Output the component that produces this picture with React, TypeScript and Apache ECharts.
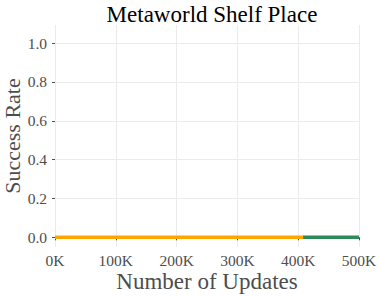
import React, { useEffect, useRef } from "react";
import * as echarts from "echarts";

const title = "Metaworld Shelf Place";
const xName = "Number of Updates";
const yName = "Success Rate";
const yTicks = [0, 0.2, 0.4, 0.6, 0.8, 1.0];
const orangeSteps = [0, 100000, 200000, 300000, 408000];
const orangeValues = [0, 0, 0, 0, 0];
const greenSteps = [408000, 450000, 500000];
const greenValues = [0, 0, 0];

const FONT = "Liberation Serif";

export default function App() {
  const ref = useRef<HTMLDivElement>(null);
  useEffect(() => {
    const chart = echarts.init(ref.current!, undefined, { renderer: "svg" });
    chart.setOption({
      animation: false,
      title: {
        text: title,
        left: 207,
        textAlign: "center",
        top: -2,
        textStyle: { fontFamily: FONT, fontSize: 23, fontWeight: "normal", color: "#000" },
      },
      grid: { left: 55, right: 20, top: 25, bottom: 49, containLabel: false, outerBoundsMode: "none" },
      xAxis: {
        type: "value",
        min: 0,
        max: 500000,
        interval: 100000,
        name: xName,
        nameLocation: "middle",
        nameGap: 23,
        nameMoveOverlap: false,
        nameTextStyle: { fontFamily: FONT, fontSize: 23, color: "#4d4d4d", verticalAlign: "top" },
        axisLine: { show: false },
        axisTick: { show: true, length: 3, lineStyle: { color: "#4d4d4d" } },
        axisLabel: {
          margin: 5,
          fontFamily: FONT,
          fontSize: 15.5,
          color: "#4d4d4d",
          formatter: (v: number) => `${v / 1000}K`,
        },
        splitLine: { show: true, lineStyle: { color: "#ebebeb", width: 1 } },
      },
      yAxis: {
        type: "value",
        min: -0.05,
        max: 1.093,
        name: yName,
        nameLocation: "middle",
        nameGap: 32,
        nameMoveOverlap: false,
        nameTextStyle: { fontFamily: FONT, fontSize: 22, color: "#4d4d4d" },
        axisLine: { show: false },
        axisTick: { show: true, length: 3, customValues: yTicks, lineStyle: { color: "#4d4d4d" } },
        axisLabel: {
          margin: 8,
          fontFamily: FONT,
          fontSize: 15.5,
          color: "#4d4d4d",
          customValues: yTicks,
          formatter: (v: number) => v.toFixed(1),
        },
        splitLine: { show: false },
      },
      series: [
        {
          type: "line",
          data: [],
          silent: true,
          z: 0,
          markLine: {
            silent: true,
            symbol: "none",
            label: { show: false },
            lineStyle: { color: "#ebebeb", width: 1, type: "solid" },
            data: yTicks.map((v) => ({ yAxis: v })),
          },
        },
        {
          type: "line",
          data: orangeSteps.map((s, i) => [s, orangeValues[i]]),
          showSymbol: false,
          clip: false,
          lineStyle: { color: "#FFA500", width: 3.5 },
          z: 5,
        },
        {
          type: "line",
          data: greenSteps.map((s, i) => [s, greenValues[i]]),
          showSymbol: false,
          clip: false,
          lineStyle: { color: "#2E8B57", width: 3.5 },
          z: 5,
        },
      ],
    });
    return () => chart.dispose();
  }, []);
  return <div ref={ref} style={{ width: 379, height: 296, position: "absolute", left: 0, top: 0 }} />;
}
